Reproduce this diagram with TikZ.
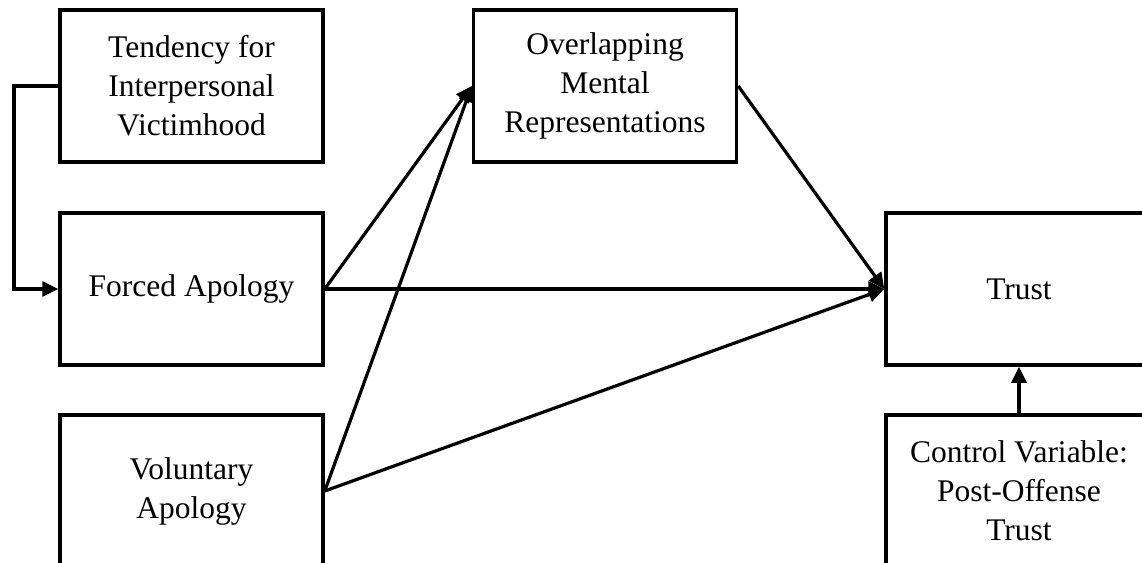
\documentclass[tikz,border=0pt]{standalone}
\usepackage{fontspec}
\setmainfont{Liberation Serif}
\usetikzlibrary{arrows.meta}
\begin{document}
\begin{tikzpicture}[x=1pt,y=-1pt,
  box/.style={draw, line width=3.5pt, minimum width=263pt, minimum height=152pt,
    inner sep=0pt, align=center, font=\fontsize{31.5}{39}\selectfont},
  arr/.style={line width=3.2pt, -{Triangle[length=16pt,width=15pt]}}]
\useasboundingbox (0,0) rectangle (1142,562);
\clip (0,0) rectangle (1142,562);
\node[box] (tend) at (191.5,86) {Tendency for\\Interpersonal\\Victimhood};
\node[box] (forced) at (191.5,289) {Forced Apology};
\node[box] (vol) at (191.5,491) {Voluntary\\Apology};
\node[box] (omr) at (605,86) {Overlapping\\Mental\\Representations};
\node[box, minimum width=266pt] (trust) at (1019,289) {Trust};
\node[box, minimum width=266pt] (ctrl) at (1019,491) {Control Variable:\\Post-Offense\\Trust};
\coordinate (bend) at (14,86);
\draw[arr] (tend.west) -- (bend) |- (forced.west);
\draw[arr] (forced.east) -- (omr.west);
\draw[arr] (vol.east) -- (omr.west);
\draw[arr] (forced.east) -- (trust.west);
\draw[arr] (vol.east) -- (trust.west);
\draw[arr] (omr.east) -- (trust.west);
\draw[arr] (ctrl.north) -- (trust.south);
\end{tikzpicture}
\end{document}
